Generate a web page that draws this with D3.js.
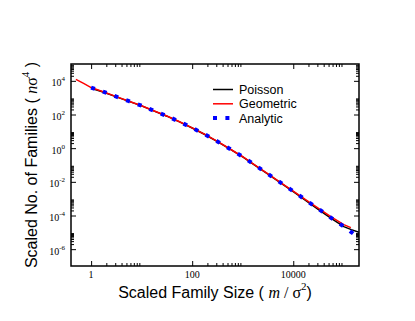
<!DOCTYPE html>
<html>
<head>
<meta charset="utf-8">
<script src="https://cdn.jsdelivr.net/npm/d3@7"></script>
<style>
  body { margin: 0; background: #fff; }
  svg { display: block; }
</style>
</head>
<body>
<script>
// values (log-log plot)
var poissonX = [1, 1.78, 3.16, 5.62, 10, 17.8, 31.6, 56.2, 100, 178, 316, 562, 1000, 1780, 3160, 5620, 1e4, 1.78e4, 3.16e4, 5.62e4, 1e5, 1.41e5, 2e5];
var poissonY = [3630, 2090, 1120, 603, 324, 158, 79.4, 36.3, 15.8, 6.46, 2.45, 0.871, 0.302, 0.0933, 0.0288, 8.71e-3, 2.63e-3, 7.59e-4, 2.24e-4, 6.76e-5, 2.19e-5, 1.45e-5, 1.0e-5];

var geomX = [0.5, 0.71, 1, 1.78, 3.16, 5.62, 10, 17.8, 31.6, 56.2, 100, 178, 316, 562, 1000, 1780, 3160, 5620, 1e4, 1.78e4, 3.16e4, 5.62e4, 1e5, 1.38e5];
var geomY = [12300, 7080, 3980, 2190, 1150, 617, 331, 162, 81.3, 37.2, 16.2, 6.61, 2.51, 0.891, 0.309, 0.0955, 0.0295, 8.91e-3, 2.82e-3, 8.51e-4, 2.63e-4, 8.32e-5, 2.88e-5, 1.91e-5];

var analyticX = [1, 1.78, 3.16, 5.62, 10, 17.8, 31.6, 56.2, 100, 178, 316, 562, 1000, 1780, 3160, 5620, 1e4, 1.78e4, 3.16e4, 5.62e4, 1e5, 1.58e5];
var analyticY = [3980, 2190, 1150, 617, 331, 162, 81.3, 37.2, 16.2, 6.61, 2.51, 0.891, 0.309, 0.0955, 0.0295, 8.91e-3, 2.75e-3, 8.13e-4, 2.45e-4, 7.24e-5, 2.24e-5, 7.94e-6];

var xMajor = [1, 100, 10000];
var xMajorLabels = ["1", "100", "10000"];
var yMajorExp = [4, 2, 0, -2, -4, -6];
var minorMult = [2, 3, 4, 5, 6, 7, 8, 9];

var legendNames = ["Poisson", "Geometric", "Analytic"];

(function(){
	var W = 415, H = 321,
		left = 71, right = 359, top = 64, bottom = 266;

	var svg = d3.select("body").append("svg").attr("width", W).attr("height", H);

	var x = d3.scaleLog().domain([0.4, 2e5]).range([left, right]),
		y = d3.scaleLog().domain([1e-7, 1e5]).range([bottom, top]);

	// minor ticks: k * 100^n (grace style)
	var xMinor = [], yMinor = [];
	[-2, 0, 2, 4].forEach(function(e){
		minorMult.forEach(function(k){
			var v = k * Math.pow(10, e);
			if (v > 0.4 && v < 2e5) xMinor.push(v);
		});
	});
	[-8, -6, -4, -2, 0, 2, 4].forEach(function(e){
		minorMult.forEach(function(k){
			var v = k * Math.pow(10, e);
			if (v > 1e-7 && v < 1e5) yMinor.push(v);
		});
	});
	var yMajor = yMajorExp.map(function(e){ return Math.pow(10, e); });

	function ax(gen, vals, size, tx, ty) {
		var g = svg.append("g").attr("transform", "translate(" + tx + "," + ty + ")")
			.call(gen.tickValues(vals).tickSize(size).tickFormat(""));
		g.select(".domain").remove();
		g.selectAll("line").attr("stroke", "#000").attr("stroke-width", 1);
		return g;
	}
	// ticks all point inward, mirrored on all four sides
	ax(d3.axisBottom(x), xMajor, -5, 0, bottom);
	ax(d3.axisBottom(x), xMinor, -3, 0, bottom);
	ax(d3.axisTop(x), xMajor, -5, 0, top);
	ax(d3.axisTop(x), xMinor, -3, 0, top);
	ax(d3.axisLeft(y), yMajor, -5, left, 0);
	ax(d3.axisLeft(y), yMinor, -3, left, 0);
	ax(d3.axisRight(y), yMajor, -5, right, 0);
	ax(d3.axisRight(y), yMinor, -3, right, 0);

	// tick labels
	var serif = "'Liberation Serif', 'DejaVu Serif', serif",
		sans = "'Liberation Sans', Arial, sans-serif";

	svg.append("g").selectAll("text").data(xMajor).enter().append("text")
		.attr("x", function(d){ return x(d); })
		.attr("y", 278)
		.attr("text-anchor", "middle")
		.attr("font-family", serif).attr("font-size", 10)
		.text(function(d, i){ return xMajorLabels[i]; });

	var yl = svg.append("g").selectAll("text").data(yMajorExp).enter().append("text")
		.attr("x", 65)
		.attr("y", function(d){ return y(Math.pow(10, d)) + 5.5; })
		.attr("text-anchor", "end")
		.attr("font-family", serif).attr("font-size", 10);
	yl.append("tspan").text("10");
	yl.append("tspan").attr("font-size", 7).attr("dy", -5)
		.text(function(d){ return d < 0 ? "-" + (-d) : "" + d; });

	// curves
	var clip = svg.append("clipPath").attr("id", "clip");
	clip.append("rect").attr("x", left).attr("y", top).attr("width", right - left).attr("height", bottom - top);

	var line = d3.line().x(function(d){ return x(d[0]); }).y(function(d){ return y(d[1]); });
	var plot = svg.append("g").attr("clip-path", "url(#clip)");

	plot.append("path").datum(d3.zip(poissonX, poissonY))
		.attr("d", line).attr("fill", "none").attr("stroke", "#000").attr("stroke-width", 1.5);
	plot.append("path").datum(d3.zip(geomX, geomY))
		.attr("d", line).attr("fill", "none").attr("stroke", "#ff0000").attr("stroke-width", 1.5);
	plot.append("path").datum(d3.zip(analyticX, analyticY))
		.attr("d", line).attr("fill", "none").attr("stroke", "#0000ff").attr("stroke-width", 4)
		.attr("stroke-dasharray", "4,8.4");

	// frame
	svg.append("rect").attr("x", left).attr("y", top).attr("width", right - left).attr("height", bottom - top)
		.attr("fill", "none").attr("stroke", "#000").attr("stroke-width", 1.5);

	// legend
	var lg = svg.append("g");
	var styles = [
		{c: "#000", w: 1.5, dash: null},
		{c: "#ff0000", w: 1.5, dash: null},
		{c: "#0000ff", w: 4, dash: "4,8.4"}
	];
	legendNames.forEach(function(n, i){
		var ly = 89.5 + i * 14.3;
		lg.append("line").attr("x1", 213).attr("x2", 233).attr("y1", ly).attr("y2", ly)
			.attr("stroke", styles[i].c).attr("stroke-width", styles[i].w)
			.attr("stroke-dasharray", styles[i].dash);
		lg.append("text").attr("x", 239).attr("y", ly + 4.5)
			.attr("font-family", sans).attr("font-size", 12.5).text(n);
	});

	// axis titles
	var xt = svg.append("text").attr("x", (left + right) / 2).attr("y", 298)
		.attr("text-anchor", "middle").attr("font-family", sans).attr("font-size", 16);
	xt.append("tspan").text("Scaled Family Size ( ");
	xt.append("tspan").attr("font-family", serif).attr("font-style", "italic").text("m");
	xt.append("tspan").attr("font-family", serif).text(" / \u03c3");
	xt.append("tspan").attr("font-family", serif).attr("font-size", 11).attr("dy", -8).text("2");
	xt.append("tspan").attr("dy", 8).text(")");

	var yt = svg.append("text")
		.attr("transform", "translate(37," + (top + bottom) / 2 + ") rotate(-90)")
		.attr("text-anchor", "middle").attr("font-family", sans).attr("font-size", 16);
	yt.append("tspan").text("Scaled No. of Families ( ");
	yt.append("tspan").attr("font-family", serif).attr("font-style", "italic").text("n");
	yt.append("tspan").attr("font-family", serif).text("\u03c3");
	yt.append("tspan").attr("font-family", serif).attr("font-size", 11).attr("dy", -8).text("4");
	yt.append("tspan").attr("dy", 8).text(" )");
})();
</script>
</body>
</html>
